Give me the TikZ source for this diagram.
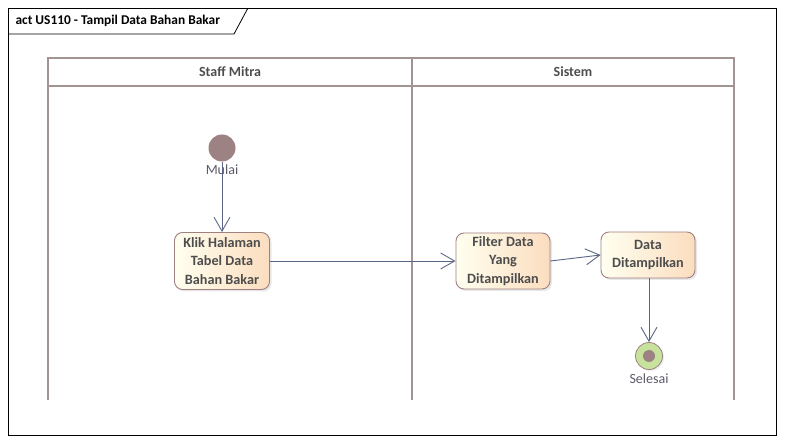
\documentclass[tikz,border=0pt]{standalone}
\usepackage{fontspec}
\setmainfont{Carlito}
\usetikzlibrary{arrows.meta,shadows}
\definecolor{lanec}{HTML}{A39494}
\definecolor{flowc}{HTML}{5A6484}
\definecolor{darkt}{HTML}{4D4D4D}
\definecolor{labt}{HTML}{5A5A6A}
\definecolor{actb}{HTML}{A08080}
\definecolor{initc}{HTML}{9C8282}
\definecolor{finc}{HTML}{C6E29C}
\tikzset{
  act/.style={draw=actb, line width=0.9pt, rounded corners=8pt, align=center,
    text=darkt, font=\fontsize{14.2}{18.5}\selectfont\bfseries,
    left color=yellow!6!white, right color=orange!22!white!94!brown,
    drop shadow={shadow xshift=2pt, shadow yshift=-2pt, fill=black!18},
    inner sep=0pt},
  startnode/.style={circle, fill=initc, minimum size=27pt, inner sep=0pt},
  endnode/.style={circle, draw=actb, line width=0.8pt, fill=finc, minimum size=27pt, inner sep=0pt,
    drop shadow={shadow xshift=1.5pt, shadow yshift=-1.5pt, fill=black!15}},
  lbl/.style={text=labt, font=\fontsize{14}{16}\selectfont},
  flow/.style={draw=flowc, line width=0.9pt, -{Straight Barb[length=14pt,width=16pt,line width=0.9pt]}},
  lane/.style={draw=lanec, line width=2.2pt},
}
\begin{document}
\begin{tikzpicture}[x=1pt, y=-1pt]
    \useasboundingbox (0,0) rectangle (785,443);
    % frame and title tab
    \draw[line width=0.8pt] (8,8) rectangle (776,435);
    \draw[line width=0.8pt] (8,34) -- (234,34) -- (248,8);
    \node[anchor=west, font=\fontsize{13.4}{16}\selectfont\bfseries] (title) at (12,21) {act US110 - Tampil Data Bahan Bakar};
    % swimlanes
    \draw[lane] (48,400) -- (48,58) -- (734,58) -- (734,400);
    \draw[lane] (412,58) -- (412,400);
    \draw[lane] (48,86) -- (734,86);
    \node[font=\fontsize{14}{16}\selectfont\bfseries, text=darkt] (lane1) at (230,72) {Staff Mitra};
    \node[font=\fontsize{14}{16}\selectfont\bfseries, text=darkt] (lane2) at (573,72) {Sistem};
    % nodes
    \node[startnode] (mulai) at (222,148) {};
    \node[lbl] (mulailbl) at (222,170) {Mulai};
    \node[act, minimum width=95pt, minimum height=57pt] (klik) at (222,261) {Klik Halaman\\Tabel Data\\Bahan Bakar};
    \node[act, minimum width=94pt, minimum height=56pt] (filter) at (503,261) {Filter Data\\Yang\\Ditampilkan};
    \node[act, minimum width=94pt, minimum height=46pt] (tampil) at (648,255) {Data\\Ditampilkan};
    \node[endnode] (selesai) at (649,356) {};
    \node[circle, fill=initc, minimum size=12pt, inner sep=0pt] (selesaidot) at (selesai) {};
    \node[lbl] (selesailbl) at (649,379) {Selesai};
    % flows
    \path (mulai) edge[flow] (klik);
    \path (klik) edge[flow] (filter);
    \path (filter.east) edge[flow] (tampil.west);
    \path (tampil.south -| selesai) edge[flow] (selesai);
\end{tikzpicture}
\end{document}
